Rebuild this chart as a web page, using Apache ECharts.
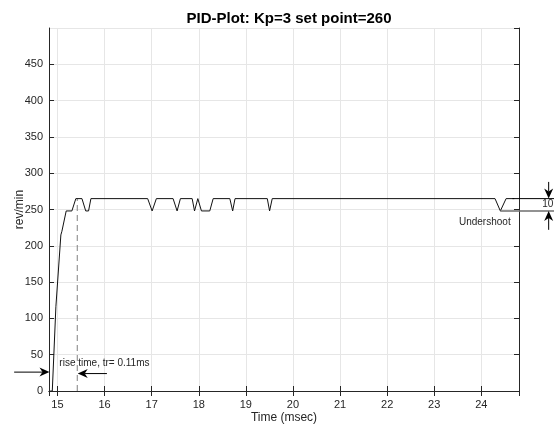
<!DOCTYPE html>
<html><head><meta charset="utf-8">
<script src="https://cdn.jsdelivr.net/npm/echarts@6/dist/echarts.min.js"></script>
<style>html,body{margin:0;padding:0;background:#fff}#c{width:554px;height:426px}</style>
</head><body><div id="c"></div>
<script>
// ---- data ----
const timeMs = [14.845, 14.89, 14.966, 15.0, 15.072, 15.094, 15.185, 15.306, 15.39, 15.52, 15.60, 15.66, 15.71,
  16.915, 17.01, 17.04, 17.10, 17.455, 17.54, 17.61, 17.86, 17.91, 17.98, 18.057, 18.234, 18.306,
  18.66, 18.72, 18.77, 19.455, 19.504, 19.56, 24.291, 24.404, 24.526, 24.70];
const revMin = [0, 0, 116, 116, 215, 220, 248, 248, 265, 265, 248, 248, 265,
  265, 248, 248, 265, 265, 248, 265, 265, 248, 265, 248, 248, 265,
  265, 248, 265, 265, 248, 265, 265, 248, 265, 265];
const xRange = [14.82, 24.8];
const yRange = [0, 500];
const riseTimeX = 15.42;
const setLevel = 265;
const underLevel = 248;

const C = '#262626';
const chart = echarts.init(document.getElementById('c'), null, {renderer: 'canvas'});
const FONT = 'Liberation Sans, Arial, sans-serif';
const option = {
  animation: false,
  backgroundColor: '#fff',
  title: {text: 'PID-Plot: Kp=3 set point=260', left: 284, textAlign: 'center', top: 6,
    textStyle: {fontFamily: FONT, fontSize: 15, fontWeight: 'bold', color: '#000'}},
  grid: {left: 49, right: 35, top: 28, bottom: 35, containLabel: false, outerBoundsMode: 'none'},
  xAxis: [{
    type: 'value', min: xRange[0], max: xRange[1], splitNumber: 10, position: 'bottom',
    name: 'Time (msec)', nameLocation: 'middle', nameGap: 21, nameMoveOverlap: false,
    nameTextStyle: {fontFamily: FONT, fontSize: 12, color: C},
    axisLine: {lineStyle: {color: C}},
    axisTick: {inside: true, length: 5, lineStyle: {color: C}},
    axisLabel: {color: C, fontFamily: FONT, fontSize: 11, margin: 8, showMinLabel: false, showMaxLabel: false,
      formatter: v => (Math.abs(v - Math.round(v)) < 1e-6 ? String(Math.round(v)) : '')},
    splitLine: {show: true, lineStyle: {color: '#e6e6e6'}}
  }, {
    type: 'value', min: xRange[0], max: xRange[1], splitNumber: 10, position: 'top',
    axisLine: {lineStyle: {color: C}},
    axisTick: {inside: true, length: 5, lineStyle: {color: C}},
    axisLabel: {show: false}, splitLine: {show: false}
  }],
  yAxis: [{
    type: 'value', min: yRange[0], max: yRange[1], splitNumber: 10, position: 'left',
    name: 'rev/min', nameLocation: 'middle', nameGap: 23, nameMoveOverlap: false,
    nameTextStyle: {fontFamily: FONT, fontSize: 12, color: C},
    axisLine: {show: true, lineStyle: {color: C}},
    axisTick: {show: true, inside: true, length: 5, lineStyle: {color: C}},
    axisLabel: {color: C, fontFamily: FONT, fontSize: 11, margin: 6, showMaxLabel: false},
    splitLine: {show: true, lineStyle: {color: '#e6e6e6'}}
  }, {
    type: 'value', min: yRange[0], max: yRange[1], splitNumber: 10, position: 'right',
    axisLine: {show: true, lineStyle: {color: C}},
    axisTick: {show: true, inside: true, length: 5, lineStyle: {color: C}},
    axisLabel: {show: false}, splitLine: {show: false}
  }],
  series: [{
    type: 'line', xAxisIndex: 0, yAxisIndex: 0, showSymbol: false, symbol: 'none',
    data: timeMs.map((t, i) => [t, revMin[i]]),
    lineStyle: {color: '#111', width: 1}, z: 5
  }]
};
chart.setOption(option);

const P = (x, y) => chart.convertToPixel({xAxisIndex: 0, yAxisIndex: 0}, [x, y]);
function arrow(a, b, color) {
  const dx = b[0] - a[0], dy = b[1] - a[1];
  const L = Math.hypot(dx, dy), ux = dx / L, uy = dy / L, nx = -uy, ny = ux;
  const hl = 10, hw = 4.5;
  const base = [b[0] - ux * hl, b[1] - uy * hl];
  const notch = [b[0] - ux * hl * 0.7, b[1] - uy * hl * 0.7];
  return [
    {type: 'line', shape: {x1: a[0], y1: a[1], x2: notch[0], y2: notch[1]}, style: {stroke: color, lineWidth: 1}, z: 20},
    {type: 'polygon', shape: {points: [b, [base[0] + nx * hw, base[1] + ny * hw], notch, [base[0] - nx * hw, base[1] - ny * hw]]},
      style: {fill: color}, z: 20}
  ];
}
const g = [];
// rise time dashed marker
let p0 = P(riseTimeX, 0), p1 = P(riseTimeX, setLevel);
g.push({type: 'line', shape: {x1: p0[0], y1: p0[1], x2: p1[0], y2: p1[1]}, style: {stroke: '#808080', lineWidth: 1, lineDash: [6, 4]}, z: 4});
// rise time arrows
g.push(...arrow(P(14.08, 26), P(14.83, 26), '#000'));
g.push(...arrow(P(16.05, 24), P(15.43, 24), '#000'));
let tp = P(15.04, 38);
g.push({type: 'text', style: {text: 'rise time, tr= 0.11ms', x: tp[0], y: tp[1], textVerticalAlign: 'middle', font: '10px ' + FONT, fill: C}, z: 21});
// undershoot lines
let a = P(24.66, setLevel), b = P(25.57, setLevel);
g.push({type: 'line', shape: {x1: a[0], y1: a[1], x2: b[0], y2: b[1]}, style: {stroke: '#000', lineWidth: 1}, z: 20});
a = P(24.40, underLevel); b = P(25.57, underLevel);
g.push({type: 'line', shape: {x1: a[0], y1: a[1], x2: b[0], y2: b[1]}, style: {stroke: '#6e6e6e', lineWidth: 1.5}, z: 20});
g.push(...arrow(P(25.43, 288), P(25.43, setLevel), '#000'));
g.push(...arrow(P(25.43, 222), P(25.43, underLevel), '#000'));
tp = P(25.41, 257);
g.push({type: 'text', style: {text: '10', x: tp[0], y: tp[1], textAlign: 'center', textVerticalAlign: 'middle', font: '10px ' + FONT, fill: C}, z: 21});
tp = P(23.525, 233);
g.push({type: 'text', style: {text: 'Undershoot', x: tp[0], y: tp[1], textVerticalAlign: 'middle', font: '10px ' + FONT, fill: C}, z: 21});
chart.setOption({graphic: g});
</script></body></html>
